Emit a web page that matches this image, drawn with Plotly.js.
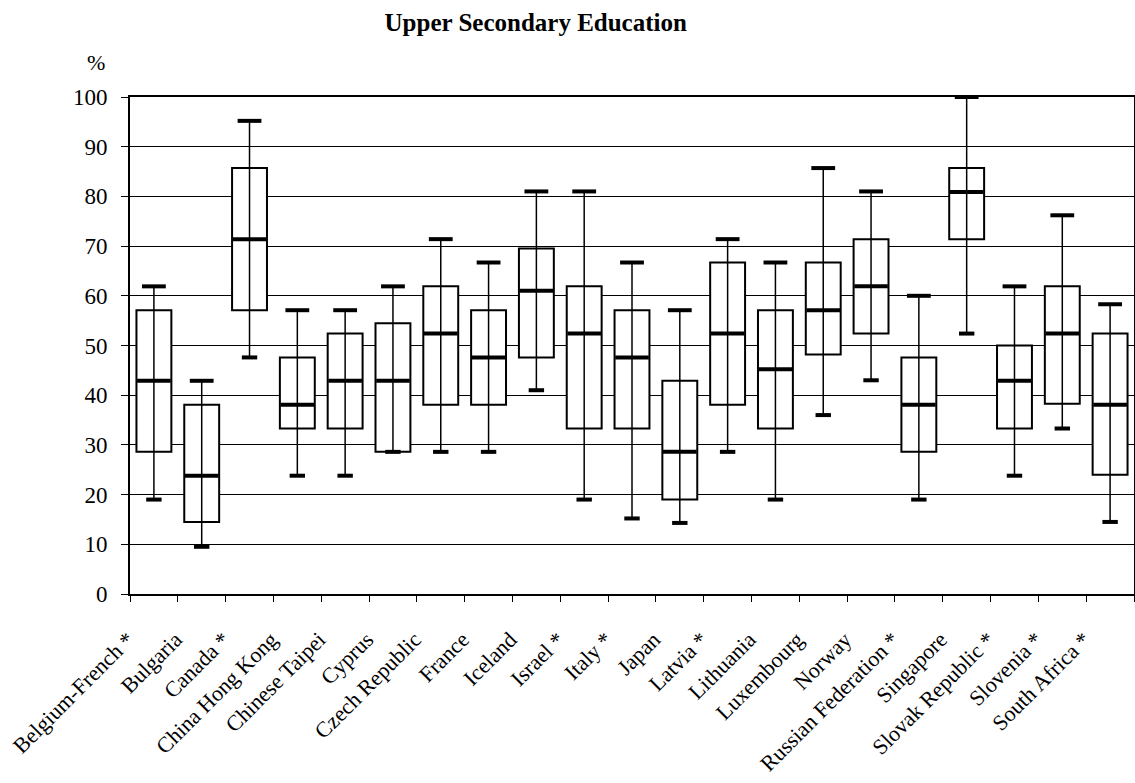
<!DOCTYPE html>
<html>
<head>
<meta charset="utf-8">
<script src="https://cdn.plot.ly/plotly-3.0.1.min.js"></script>
<style>html,body{margin:0;padding:0;background:#fff;}#chart{width:1135px;height:783px;}</style>
</head>
<body>
<div id="chart"></div>
<script>
const categories = ["Belgium-French *","Bulgaria","Canada *","China Hong Kong","Chinese Taipei","Cyprus","Czech Republic","France","Iceland","Israel *","Italy *","Japan","Latvia *","Lithuania","Luxembourg","Norway","Russian Federation *","Singapore","Slovak Republic *","Slovenia *","South Africa *"];
const minVals = [19, 9.5, 47.6, 23.8, 23.8, 28.6, 28.6, 28.6, 41, 19, 15.2, 14.3, 28.6, 19, 36, 43, 19, 52.4, 23.8, 33.3, 14.5];
const q1Vals  = [28.6, 14.5, 57.1, 33.3, 33.3, 28.6, 38.1, 38.1, 47.6, 33.3, 33.3, 19, 38.1, 33.3, 48.2, 52.4, 28.6, 71.4, 33.3, 38.3, 24];
const medVals = [42.9, 23.8, 71.4, 38.1, 42.9, 42.9, 52.4, 47.6, 61, 52.4, 47.6, 28.6, 52.4, 45.2, 57.1, 61.9, 38.1, 80.9, 42.9, 52.4, 38.1];
const q3Vals  = [57.1, 38.1, 85.7, 47.6, 52.4, 54.5, 61.9, 57.1, 69.5, 61.9, 57.1, 42.9, 66.7, 57.1, 66.7, 71.4, 47.6, 85.7, 50, 61.9, 52.4];
const maxVals = [61.9, 42.9, 95.2, 57.1, 57.1, 61.9, 71.4, 66.7, 81, 81, 66.7, 57.1, 71.4, 66.7, 85.7, 81, 60, 100, 61.9, 76.2, 58.3];
const yTickVals = [0,10,20,30,40,50,60,70,80,90,100];

const FONT = "Liberation Serif, Times New Roman, serif";

const boxes = {
  type: 'bar', x: categories, base: q1Vals,
  y: q3Vals.map((v, i) => v - q1Vals[i]),
  width: 0.73,
  marker: {color: '#fff', line: {color: '#000', width: 2}},
  hoverinfo: 'skip', showlegend: false
};
const wx = [], wy = [];
categories.forEach((c, i) => { wx.push(c, c, null); wy.push(minVals[i], maxVals[i], null); });
const whiskers = {
  type: 'scatter', mode: 'lines', x: wx, y: wy,
  line: {color: '#000', width: 1.5}, hoverinfo: 'skip', showlegend: false, cliponaxis: false
};
function caps(vals, size) {
  return {
    type: 'scatter', mode: 'markers', x: categories, y: vals,
    marker: {symbol: 'line-ew', size: size, line: {color: '#000', width: 4}},
    hoverinfo: 'skip', showlegend: false, cliponaxis: false
  };
}

const layout = {
  width: 1135, height: 783,
  margin: {l: 130, r: 1, t: 97, b: 189},
  paper_bgcolor: '#fff', plot_bgcolor: '#fff',
  font: {family: FONT, color: '#000', size: 22},
  title: {text: '<b>Upper Secondary Education</b>', x: 0.472, xref: 'container', xanchor: 'center',
          y: 0.972, yref: 'container', yanchor: 'middle', font: {family: FONT, size: 25, color: '#000'}},
  xaxis: {
    type: 'category', tickangle: -45, tickson: 'boundaries', ticks: 'outside', ticklen: 6,
    tickcolor: '#000', tickwidth: 1, showgrid: false, showline: true, linecolor: '#000', linewidth: 2,
    mirror: true, tickfont: {family: FONT, size: 22, color: '#000'}, range: [-0.5, 20.5],
    ticklabelstandoff: 22, ticklabelshift: -26
  },
  yaxis: {
    range: [0, 100], tickvals: yTickVals, ticks: 'outside', ticklen: 7, tickcolor: '#000', tickwidth: 1,
    showgrid: true, gridcolor: '#000', gridwidth: 1, showline: true, linecolor: '#000', linewidth: 2,
    mirror: true, zeroline: false, tickfont: {family: FONT, size: 23, color: '#000'},
    ticklabelstandoff: 9
  },
  annotations: [{text: '%', xref: 'paper', yref: 'paper', x: -0.034, y: 1.07, xanchor: 'center', yanchor: 'middle',
                 showarrow: false, font: {family: FONT, size: 22, color: '#000'}}],
  bargap: 0.27
};

Plotly.newPlot('chart', [boxes, whiskers, caps(maxVals, 17), caps(minVals, 11), caps(medVals, 24)], layout, {displayModeBar: false, staticPlot: true});
</script>
</body>
</html>
